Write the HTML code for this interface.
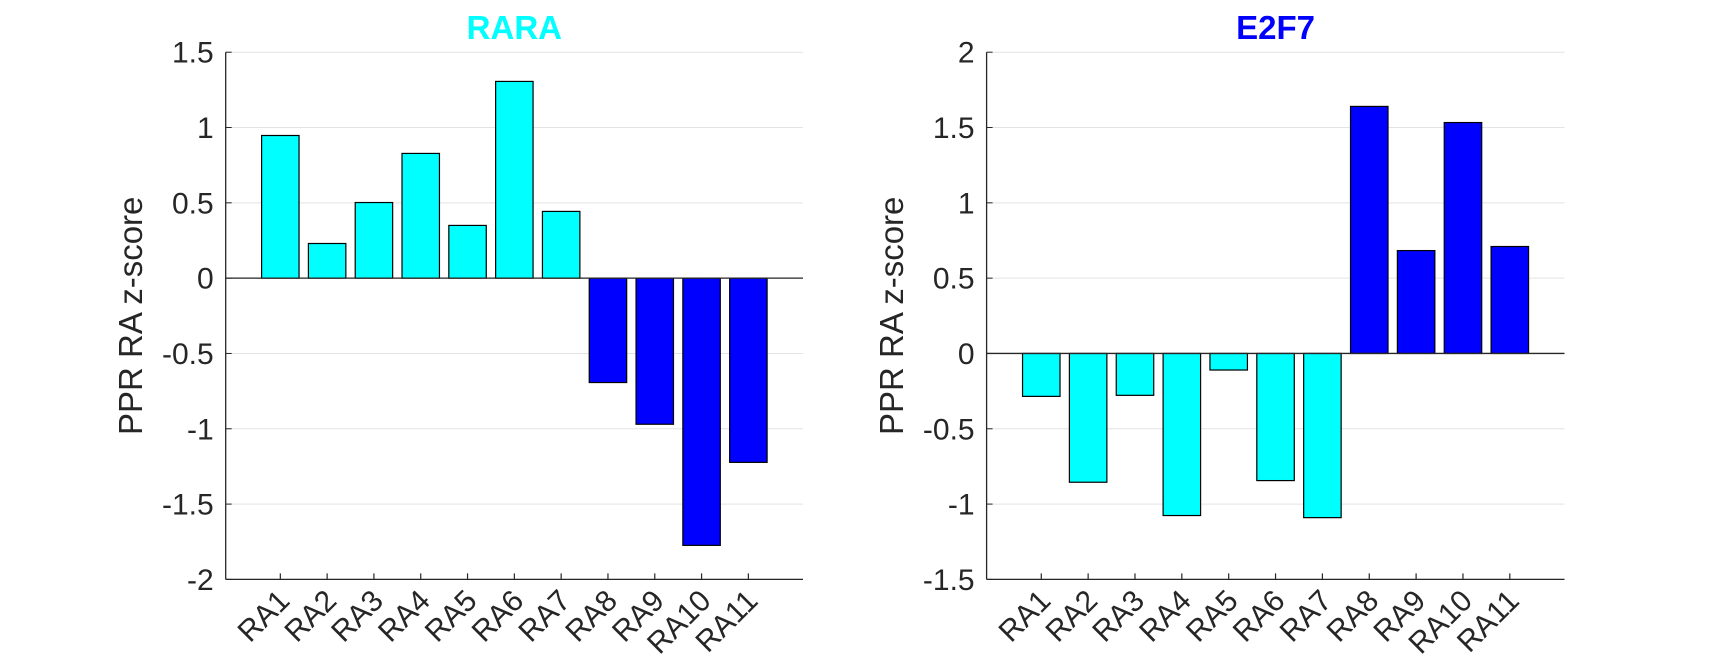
<!DOCTYPE html>
<html><head><meta charset="utf-8"><style>
html,body{margin:0;padding:0;background:#fff;}
svg{display:block;font-family:"Liberation Sans",Arial,sans-serif;}
</style></head><body>
<svg id="chart" width="1728" height="672" viewBox="0 0 1728 672"></svg>
<script>
const categories = ["RA1","RA2","RA3","RA4","RA5","RA6","RA7","RA8","RA9","RA10","RA11"];
const raraValues = [0.947,0.23,0.502,0.828,0.35,1.306,0.443,-0.693,-0.97,-1.774,-1.223];
const e2f7Values = [-0.285,-0.855,-0.278,-1.076,-0.11,-0.844,-1.09,1.64,0.683,1.533,0.71];
const raraTicks = [1.5,1,0.5,0,-0.5,-1,-1.5,-2];
const e2f7Ticks = [2,1.5,1,0.5,0,-0.5,-1,-1.5];
const barGroups = ["cyan","cyan","cyan","cyan","cyan","cyan","cyan","blue","blue","blue","blue"];

const NS="http://www.w3.org/2000/svg";
const svg=document.getElementById('chart');
function mk(tag,attrs,parent){const e=document.createElementNS(NS,tag);for(const k in attrs)e.setAttribute(k,attrs[k]);(parent||svg).appendChild(e);return e;}

function panel(opt){
  const g=mk('g',{});
  
  
  const x0=opt.left,x1=opt.right,yTop=52.2,yBot=579.4;
  const ymax=opt.ticks[0],ymin=opt.ticks[opt.ticks.length-1];
  const pad=1.167,n=categories.length;
  const xs=i=>x0+(i+1-(1-pad))*(x1-x0)/(n-1+2*pad);
  const ys=v=>yTop+(ymax-v)*(yBot-yTop)/(ymax-ymin);
  const step=(x1-x0)/(n-1+2*pad);
  opt.ticks.forEach(t=>{
    const l=mk('line',{x1:x0,x2:x1,y1:ys(t),y2:ys(t),stroke:'#e3e3e3','stroke-width':1},g);
    
    
    const tk=mk('text',{x:x0-12,y:ys(t)+10.5,'text-anchor':'end','font-size':30,fill:'#262626'},g);
    tk.textContent=String(t);
    
    
    mk('line',{x1:x0,x2:x0+6,y1:ys(t),y2:ys(t),stroke:'#262626','stroke-width':1},g);
  });
  opt.values.forEach((v,i)=>{
    const cx=xs(i),w=step*0.8;
    const y=Math.min(ys(v),ys(0)),h=Math.abs(ys(v)-ys(0));
    const r=mk('rect',{x:cx-w/2,y:y,width:w,height:h,fill:barGroups[i]==='cyan'?'#00ffff':'#0000ff',stroke:'#000','stroke-width':1.2},g);
    
    
  });
  const z=mk('line',{x1:x0,x2:x1,y1:ys(0),y2:ys(0),stroke:'#262626','stroke-width':1.3},g);
  
  
  const ya=mk('line',{x1:x0,x2:x0,y1:yTop,y2:yBot,stroke:'#262626','stroke-width':1.3},g);
  
  
  const xa=mk('line',{x1:x0,x2:x1,y1:yBot,y2:yBot,stroke:'#262626','stroke-width':1.3},g);
  
  
  categories.forEach((c,i)=>{
    const cx=xs(i);
    mk('line',{x1:cx,x2:cx,y1:yBot,y2:yBot-6,stroke:'#262626','stroke-width':1.2},g);
    const t=mk('text',{x:0,y:0,'text-anchor':'end','font-size':30,fill:'#262626',transform:`translate(${cx+11},${yBot+23}) rotate(-45)`},g);
    t.textContent=c;
    
    
  });
  const yl=mk('text',{x:0,y:0,'text-anchor':'middle','font-size':33,fill:'#262626',transform:`translate(${opt.ylabelX},${(yTop+yBot)/2}) rotate(-90)`},g);
  yl.textContent='PPR RA z-score';
  
  
  const ti=mk('text',{x:(x0+x1)/2,y:39,'text-anchor':'middle','font-size':33,'font-weight':'bold',fill:opt.titleColor},g);
  ti.textContent=opt.title;
  
  
}
panel({name:'rara-panel',left:225.7,right:803,values:raraValues,ticks:raraTicks,title:'RARA',titleColor:'#00ffff',ylabelX:142});
panel({name:'e2f7-panel',left:986.6,right:1564.5,values:e2f7Values,ticks:e2f7Ticks,title:'E2F7',titleColor:'#0000ff',ylabelX:903});
</script>
</body></html>
